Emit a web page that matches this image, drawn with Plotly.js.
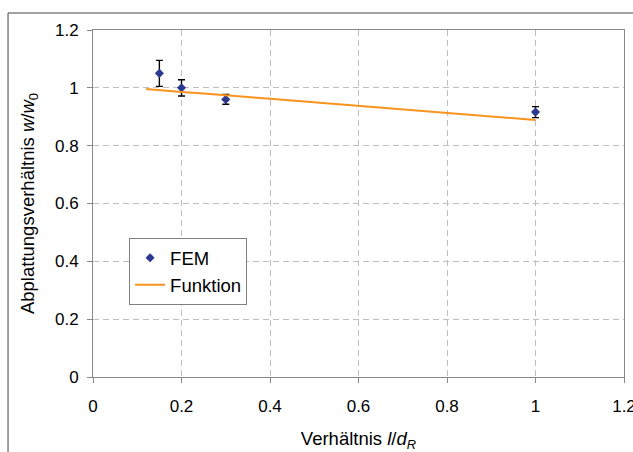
<!DOCTYPE html>
<html><head><meta charset="utf-8">
<script src="https://cdn.plot.ly/plotly-3.0.1.min.js"></script>
<style>html,body{margin:0;padding:0;background:#fff}#chart{width:633px;height:452px}</style>
</head><body><div id="chart"></div>
<script>
var femX = [0.15, 0.2, 0.3, 1.0];
var femY = [1.05, 1.0, 0.96, 0.916];
var femErr = [0.045, 0.028, 0.017, 0.019];
var funkX = [0.12, 0.15, 0.2, 0.25, 0.3, 0.35, 0.4, 0.5, 0.6, 0.7, 0.8, 0.9, 1.0];
var funkY = [0.996, 0.993, 0.986, 0.98, 0.975, 0.968, 0.962, 0.95, 0.939, 0.926, 0.913, 0.901, 0.889];
var xTicks = [0, 0.2, 0.4, 0.6, 0.8, 1, 1.2];
var yTicks = [0, 0.2, 0.4, 0.6, 0.8, 1, 1.2];

var fam = 'Liberation Sans, Arial, sans-serif';
var tickFont = {family: fam, size: 17, color: '#000'};
var titleFont = {family: fam, size: 18.5, color: '#000'};
var traces = [
  {x: femX, y: femY, type: 'scatter', mode: 'markers', name: 'FEM',
   marker: {symbol: 'diamond', size: 7, color: '#2B3990'},
   error_y: {type: 'data', array: femErr, visible: true, color: '#000', thickness: 1.4, width: 3.5}},
  {x: funkX, y: funkY, type: 'scatter', mode: 'lines', name: 'Funktion',
   line: {color: '#F7931E', width: 2}}
];
var axBase = {showline: true, mirror: true, linecolor: '#888', linewidth: 1,
  ticks: 'outside', ticklen: 5, tickcolor: '#888', showgrid: true,
  gridcolor: '#BFBFBF', griddash: '6px,4px', gridwidth: 1, zeroline: false, tickfont: tickFont,
  ticklabeloverflow: 'allow'};
var layout = {
  width: 633, height: 452,
  margin: {l: 93, r: 9, t: 30, b: 75},
  paper_bgcolor: '#fff', plot_bgcolor: '#fff',
  font: tickFont,
  showlegend: true,
  legend: {x: 0.068, y: 0.40, xanchor: 'left', yanchor: 'top', bordercolor: '#808080', borderwidth: 1,
    bgcolor: '#fff', font: titleFont, tracegroupgap: 0, itemwidth: 30},
  xaxis: Object.assign({}, axBase, {range: [0, 1.2], tickvals: xTicks, ticktext: xTicks.map(String),
    ticklabelstandoff: 9,
    title: {text: 'Verhältnis <i>l</i>/<i>d</i><sub><i>R</i></sub>', font: titleFont, standoff: 17}}),
  yaxis: Object.assign({}, axBase, {range: [0, 1.2], tickvals: yTicks, ticktext: yTicks.map(String),
    ticklabelstandoff: 5,
    title: {text: 'Abplattungsverhältnis <i>w</i>/<i>w</i><sub>0</sub>', font: titleFont, standoff: 15}}),
  shapes: [{type: 'rect', xref: 'paper', yref: 'paper', x0: -0.16, x1: 1.2, y0: -0.4, y1: 1.049,
    line: {color: '#444', width: 1}, fillcolor: 'rgba(0,0,0,0)', layer: 'below'}]
};
Plotly.newPlot('chart', traces, layout, {displayModeBar: false, staticPlot: true});
</script></body></html>
